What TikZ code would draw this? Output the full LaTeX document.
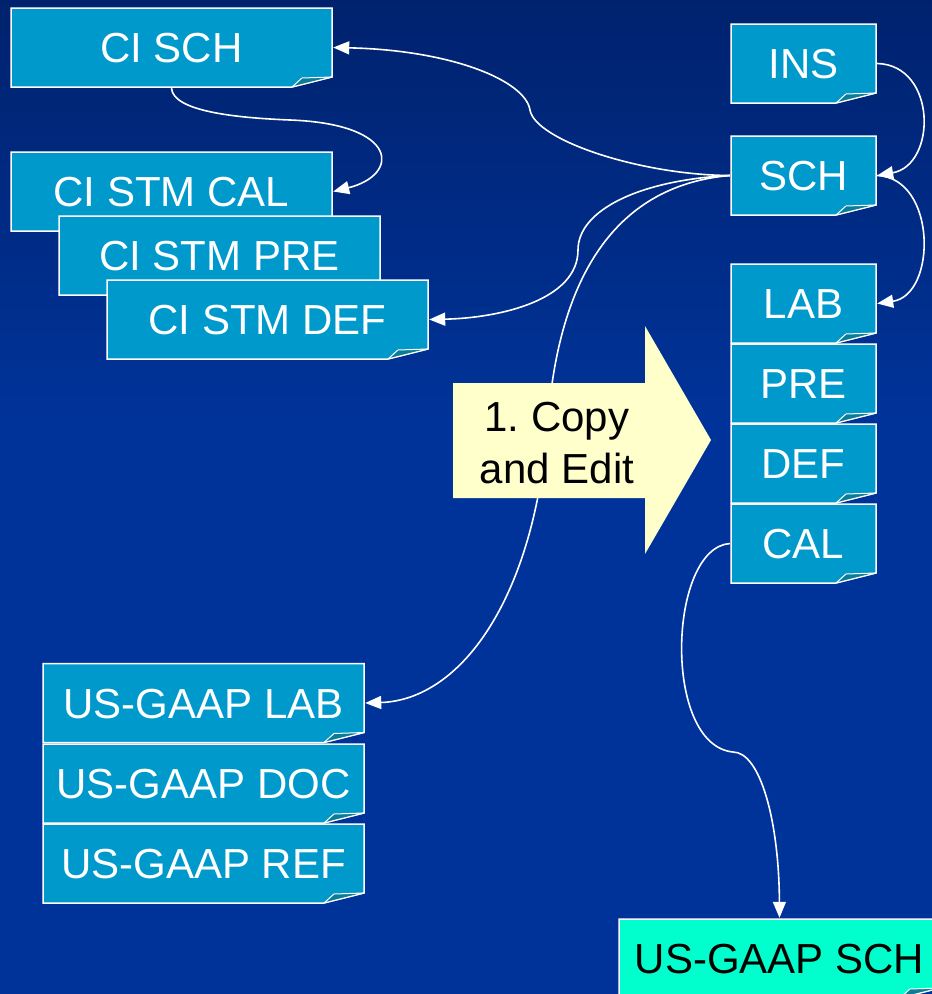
\documentclass[tikz,border=0pt]{standalone}
\usepackage{fontspec}
\setmainfont{Liberation Sans}
\usepackage{xcolor}
\definecolor{bgtop}{HTML}{00226E}
\definecolor{bgbot}{HTML}{003399}
\definecolor{docblue}{HTML}{0099CC}
\definecolor{docflap}{HTML}{0B7E96}
\definecolor{docmint}{HTML}{00FFCC}
\definecolor{notecream}{HTML}{FFFFCC}
\usepackage{tikz}
\usetikzlibrary{arrows.meta,positioning}
\tikzset{
  docfill/.store in=\docfill, docfill=docblue,
  docbox/.style  ={rectangle, inner sep=0pt, minimum width=323pt, minimum height=81pt,
                   font=\fontsize{42}{50}\selectfont, text=white,
                   text height=30pt, text depth=0pt,
                   path picture={
                     \path[fill=\docfill, draw=white, line width=1.5pt]
                       ([shift={(1pt,-1pt)}]path picture bounding box.north west) --
                       ([shift={(-1pt,-1pt)}]path picture bounding box.north east) --
                       ([shift={(-1pt,11pt)}]path picture bounding box.south east) --
                       ([shift={(-41pt,1pt)}]path picture bounding box.south east) --
                       ([shift={(1pt,1pt)}]path picture bounding box.south west) -- cycle;
                     \path[fill=docflap, draw=white, line width=1pt, line join=round]
                       ([shift={(-41pt,1pt)}]path picture bounding box.south east) --
                       ([shift={(-31pt,10pt)}]path picture bounding box.south east) --
                       ([shift={(-1pt,11pt)}]path picture bounding box.south east) -- cycle;
                   }},
  docsmall/.style={docbox, minimum width=147pt},
  docnew/.style  ={docbox, docfill=docmint, text=black},
  link/.style    ={-{Triangle[length=16pt,width=13pt]}, line width=1.6pt, draw=white},
  copyshape/.style={fill=notecream, draw=none},
  copytext/.style={align=center, inner sep=0pt, text=black,
                   font=\fontsize{42}{52}\selectfont},
}

\begin{document}
\begin{tikzpicture}[x=1pt, y=-1pt]
  \useasboundingbox (0,0) rectangle (932,994);
  \clip (0,0) rectangle (932,994);
  \fill[top color=bgtop, bottom color=bgbot] (0,0) rectangle (932,420);
  \fill[bgbot] (0,419) rectangle (932,994);

  \node[docbox] (cisch) at (171.5,47.5) {CI SCH};
  \node[docbox] (cical) at (171.5,191.5) {CI STM CAL};
  \node[docbox] (cipre) at (219.5,255.5) {CI STM PRE};
  \node[docbox] (cidef) at (267.5,319.5) {CI STM DEF};

  \node[docsmall] (ins) at (803.5,63.5) {INS};
  \node[docsmall] (sch) at (803.5,175.5) {SCH};
  \node[docsmall] (lab) at (803.5,303.5) {LAB};
  \node[docsmall] (pre) at (803.5,383.5) {PRE};
  \node[docsmall] (def) at (803.5,463.5) {DEF};
  \node[docsmall] (cal) at (803.5,543.5) {CAL};

  \node[docbox] (gaaplab) at (203.5,703) {US-GAAP LAB};
  \node[docbox] (gaapdoc) at (203.5,783.5) {US-GAAP DOC};
  \node[docbox] (gaapref) at (203.5,863.5) {US-GAAP REF};

  \node[docnew] (gaapsch) at (779.5,958.5) {US-GAAP SCH};

  \draw[link] (sch.west) .. controls (640,175) and (535,140) .. (530,110)
              .. controls (525,80) and (450,50) .. (cisch.east);
  \draw[link] (cisch.south) .. controls (173,112) and (240,118) .. (290,120)
              .. controls (400,124) and (400,175) .. (cical.east);
  \draw[link] (sch.west) .. controls (640,180) and (578,210) .. (578,250)
              .. controls (578,300) and (500,318) .. (cidef.east);
  \draw[link] (sch.west) .. controls (620,185) and (560,270) .. (548,420)
              .. controls (535,600) and (460,700) .. (gaaplab.east);
  \draw[link] (ins.east) .. controls (937,65) and (937,165) .. (sch.east);
  \draw[link] (sch.east) .. controls (937,178) and (937,295) .. (lab.east);
  \draw[link] (cal.west) .. controls (668,548) and (662,745) .. (733,752)
              .. controls (760,752) and (779,820) .. (gaapsch.north);

  \fill[copyshape] (453,383) -- (645,383) -- (645,326) -- (711,440)
                   -- (645,554) -- (645,498) -- (453,498) -- cycle;
  \node[copytext] (copy) at (557,443) {1.\ Copy\\and Edit};
\end{tikzpicture}
\end{document}
